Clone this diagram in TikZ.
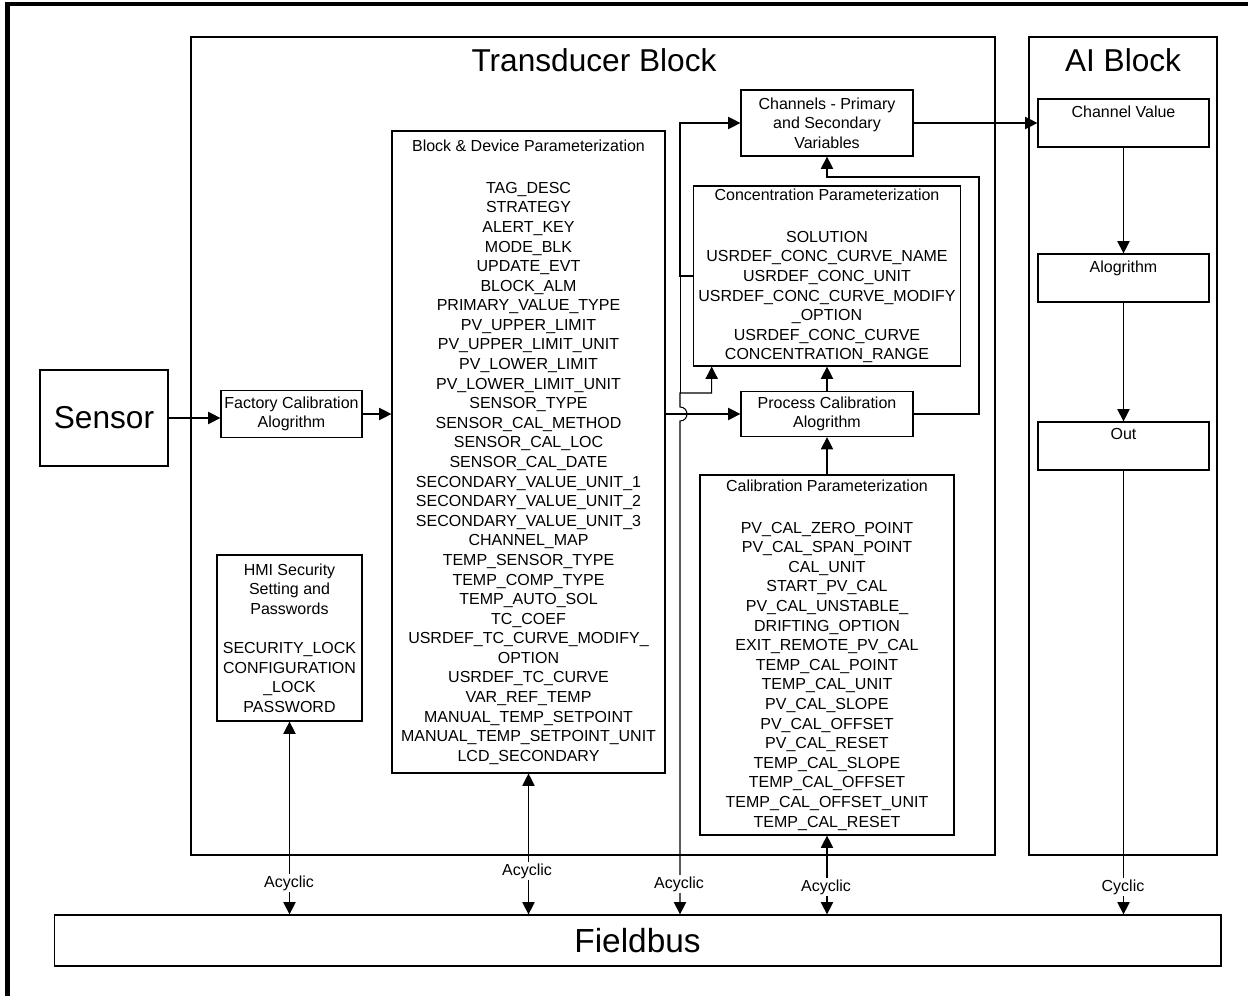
\documentclass[tikz,border=0pt]{standalone}
\usepackage{fontspec}
\setmainfont{Liberation Sans}
\usetikzlibrary{arrows.meta,positioning,calc}
\tikzset{
  box/.style={draw,line width=0.7pt,inner sep=0pt,align=center,font=\fontsize{9.1}{11.15}\selectfont},
  pane/.style={draw,line width=0.7pt,inner sep=0pt},
  title/.style={inner sep=0pt,font=\fontsize{18}{21}\selectfont},
  lbl/.style={inner sep=1pt,fill=white,font=\fontsize{9.1}{11}\selectfont},
  topbox/.style={box,label={[inner sep=0pt,anchor=north,yshift=-4pt,font=\fontsize{9.1}{11}\selectfont]north:#1}},
  arrow/.style={-{Triangle[length=7pt,width=7pt]},line width=0.6pt},
  dblarrow/.style={{Triangle[length=7pt,width=7pt]}-{Triangle[length=7pt,width=7pt]},line width=0.6pt},
}
\begin{document}
\begin{tikzpicture}[x=0.02cm,y=-0.02cm]
  \useasboundingbox (0,0) rectangle (1248,996);
  \draw[line width=2.6pt] (7.5,996) -- (7.5,4) -- (1248,4);
  % outer blocks
  \node[pane,minimum width=16.08cm,minimum height=16.36cm] (tb) at (593,446) {};
  \node[title] (tbtitle) at (594,60) {Transducer Block};
  \node[pane,minimum width=3.76cm,minimum height=16.36cm] (ai) at (1123,446) {};
  \node[title] (aititle) at (1123,60) {AI Block};
  % transducer block contents
  \node[box,minimum width=2.56cm,minimum height=1.92cm,font=\fontsize{18}{21}\selectfont] (sensor) at (104,418) {Sensor};
  \node[box,minimum width=2.82cm,minimum height=0.94cm] (fcal) at (291.5,414) {Factory Calibration\\Alogrithm};
  \node[box,minimum width=5.46cm,minimum height=12.84cm] (bdp) at (528.5,452) {Block \& Device Parameterization\\~\\[1.7pt]TAG\_DESC\\STRATEGY\\ALERT\_KEY\\MODE\_BLK\\UPDATE\_EVT\\BLOCK\_ALM\\PRIMARY\_VALUE\_TYPE\\PV\_UPPER\_LIMIT\\PV\_UPPER\_LIMIT\_UNIT\\PV\_LOWER\_LIMIT\\PV\_LOWER\_LIMIT\_UNIT\\SENSOR\_TYPE\\SENSOR\_CAL\_METHOD\\SENSOR\_CAL\_LOC\\SENSOR\_CAL\_DATE\\SECONDARY\_VALUE\_UNIT\_1\\SECONDARY\_VALUE\_UNIT\_2\\SECONDARY\_VALUE\_UNIT\_3\\CHANNEL\_MAP\\TEMP\_SENSOR\_TYPE\\TEMP\_COMP\_TYPE\\TEMP\_AUTO\_SOL\\TC\_COEF\\USRDEF\_TC\_CURVE\_MODIFY\_\\OPTION\\USRDEF\_TC\_CURVE\\VAR\_REF\_TEMP\\MANUAL\_TEMP\_SETPOINT\\MANUAL\_TEMP\_SETPOINT\_UNIT\\LCD\_SECONDARY};
  \node[box,minimum width=2.9cm,minimum height=3.32cm] (hmi) at (289.5,638) {HMI Security\\Setting and\\Passwords\\~\\SECURITY\_LOCK\\CONFIGURATION\\\_LOCK\\PASSWORD};
  \node[box,minimum width=3.44cm,minimum height=1.32cm] (chan) at (827,123) {Channels - Primary\\and Secondary\\Variables};
  \node[box,minimum width=5.34cm,minimum height=3.6cm] (conc) at (827,276) {Concentration Parameterization\\~\\[1.5pt]SOLUTION\\USRDEF\_CONC\_CURVE\_NAME\\USRDEF\_CONC\_UNIT\\USRDEF\_CONC\_CURVE\_MODIFY\\\_OPTION\\USRDEF\_CONC\_CURVE\\CONCENTRATION\_RANGE};
  \node[box,minimum width=3.44cm,minimum height=0.9cm] (pcal) at (827,414) {Process Calibration\\Alogrithm};
  \node[box,minimum width=5.08cm,minimum height=7.2cm] (calp) at (827,655) {Calibration Parameterization\\~\\[1.5pt]PV\_CAL\_ZERO\_POINT\\PV\_CAL\_SPAN\_POINT\\CAL\_UNIT\\START\_PV\_CAL\\PV\_CAL\_UNSTABLE\_\\DRIFTING\_OPTION\\EXIT\_REMOTE\_PV\_CAL\\TEMP\_CAL\_POINT\\TEMP\_CAL\_UNIT\\PV\_CAL\_SLOPE\\PV\_CAL\_OFFSET\\PV\_CAL\_RESET\\TEMP\_CAL\_SLOPE\\TEMP\_CAL\_OFFSET\\TEMP\_CAL\_OFFSET\_UNIT\\TEMP\_CAL\_RESET};
  % AI block contents
  \node[topbox=Channel Value,minimum width=3.42cm,minimum height=0.96cm] (cval) at (1123.5,123) {};
  \node[topbox=Alogrithm,minimum width=3.42cm,minimum height=0.96cm] (aialg) at (1123.5,278) {};
  \node[topbox=Out,minimum width=3.42cm,minimum height=0.96cm] (out) at (1123.5,446) {};
  % bus
  \node[box,minimum width=23.34cm,minimum height=1.02cm,font=\fontsize{19}{22}\selectfont] (fb) at (637.5,940.5) {Fieldbus};
  % routing points
  \coordinate (jn) at (680,393);
  \coordinate (hopt) at (680,407);
  \coordinate (hopb) at (680,421);
  \coordinate (rt) at (979,177);
  % connectors
  \draw[arrow] (sensor.east) -- (sensor.east -| fcal.west);
  \draw[arrow] (fcal.east) -- (fcal.east -| bdp.west);
  \draw[arrow] (pcal.west -| bdp.east) -- (pcal.west);
  \draw[dblarrow] (fb.north -| jn) -- (hopb) to[out=0,in=0,looseness=1.7] (hopt) -- (jn) -| ($(conc.south west)!0.07!(conc.south east)$);
  \draw[arrow] (conc.west) -- (conc.west -| jn) |- (chan.west);
  \draw (conc.west -| jn) -- (jn);
  \draw[arrow] (pcal.east) -| (rt) -| (chan.south);
  \draw[arrow] (pcal.north) -- (conc.south);
  \draw[arrow] (calp.north) -- (pcal.south);
  \draw[arrow] (chan.east) -- (chan.east -| cval.west);
  \draw[arrow] (cval.south) -- (aialg.north);
  \draw[arrow] (aialg.south) -- (out.north);
  \draw[arrow] (out.south) -- (out.south |- fb.north);
  \draw[dblarrow] (hmi.south) -- (hmi.south |- fb.north);
  \draw[dblarrow] (bdp.south) -- (bdp.south |- fb.north);
  \draw[dblarrow] (calp.south) -- (calp.south |- fb.north);
  % bus labels
  \node[lbl] (ac1) at (289,883) {Acyclic};
  \node[lbl] (ac2) at (527,871) {Acyclic};
  \node[lbl] (ac3) at (679,884) {Acyclic};
  \node[lbl] (ac4) at (826,887) {Acyclic};
  \node[lbl] (cyc) at (1123,887) {Cyclic};
\end{tikzpicture}
\end{document}
